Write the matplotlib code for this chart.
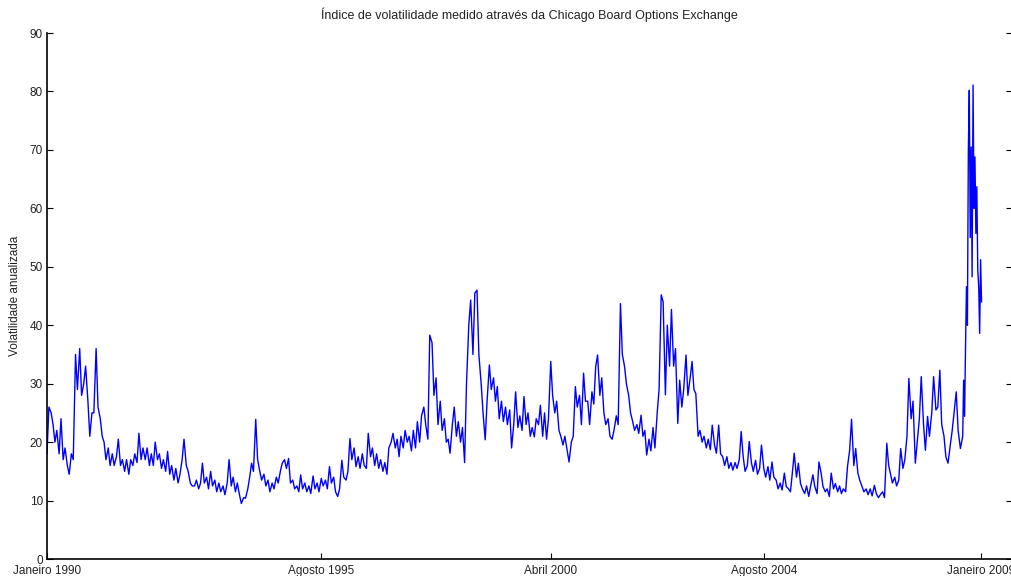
import matplotlib
matplotlib.use("Agg")
import matplotlib.pyplot as plt
import matplotlib.dates as mdates
import pandas as pd
import numpy as np

# ---- data (semi-monthly samples, weekly during the 2008 crash) ----
vix_1990_1994 = [
    18, 26, 25, 23, 20, 22, 18, 24, 17, 19, 16, 14.5, 18, 17, 35, 29, 36, 28, 30, 33, 27, 21, 25, 25,
    36, 26, 24, 21, 20, 17, 19, 16, 18, 16, 17.5, 20.5, 16, 17, 15, 17, 14.5, 17, 16, 18, 16.5, 21.5, 17, 19,
    17, 19, 16, 18, 16, 20, 17, 18, 15.5, 17, 15, 18.4, 14.5, 16, 13.5, 15.5, 13, 14.5, 17, 20.5, 16, 15, 13, 12.5,
    12.5, 13.5, 12, 13, 16.4, 13, 14, 12, 15, 12.5, 13.5, 11.5, 13, 11.5, 12.5, 11, 13, 17, 12.5, 14, 11.5, 13, 11, 9.5,
    10.5, 10.4, 12, 14, 16.4, 15, 23.9, 17, 15, 13.5, 14.5, 12.5, 13.5, 11.5, 13, 12, 14, 13, 15, 16.4, 17, 15.5, 17.2, 13,
]
vix_1995_1999 = [
    13.5, 12, 12.5, 11.5, 14.4, 12, 13, 11.5, 12.5, 11.2, 14.2, 12, 13, 11.5, 13.8, 12.5, 13.5, 12, 15.8, 13, 14, 11.5, 10.7, 12,
    16.9, 14, 13.5, 15, 20.6, 17, 19, 15.8, 17.5, 15.5, 18, 16, 15.5, 21.5, 17.5, 19, 16, 18, 15.5, 17, 15, 16.5, 14.5, 19,
    20, 21.5, 19, 20.5, 17.5, 21, 19, 22, 20, 21, 18.5, 22, 19, 23.5, 20, 24.5, 26, 23, 20.5, 38.3, 37, 28, 31, 23,
    27, 22, 24, 20, 20.5, 18.1, 23, 26, 21, 23.5, 20, 22.5, 16.5, 30, 40, 44.3, 35, 45.5, 46, 35, 30, 25, 20.4, 27,
    33.2, 29, 31, 27, 29.5, 24, 27, 23.5, 26, 23, 25.5, 19, 23, 28.6, 22.5, 24.5, 22, 27.8, 23, 25, 21, 22.5, 20.9, 24,
]
vix_2000_2004 = [
    23, 26.3, 21, 25, 20.5, 24, 33.8, 28, 25, 27, 22, 21, 19.5, 21, 18.6, 16.6, 20, 21, 29.5, 26, 28, 23, 31.8, 27,
    27, 23, 28.6, 26.5, 32.9, 34.9, 28, 31, 25, 23, 24, 21, 20.5, 22, 24.5, 23, 43.7, 35, 33, 30, 28, 25, 23.5, 22,
    23, 21.5, 24.6, 21, 22, 17.8, 20.5, 18.5, 22.5, 19, 25, 29, 45.2, 44, 28.1, 40, 33, 42.7, 33, 36, 23.2, 30.6, 26, 29,
    34.9, 28, 31, 33.8, 29, 28.3, 21, 22, 20, 21, 19, 20.5, 18.7, 22.9, 19.5, 18.1, 22.9, 18, 17.5, 16, 17.5, 15.5, 16.5, 15.2,
    16.5, 15.5, 17, 21.8, 17.5, 15, 16, 20.1, 16.5, 15, 16.9, 14.5, 15.5, 19.5, 15.5, 14, 15.8, 13.5, 16.6, 14, 13.5, 12, 13, 11.8,
]
vix_2005_2008 = [
    14.7, 12.4, 12, 11.5, 14.7, 18.1, 14, 16.4, 12.9, 12, 11.2, 12.5, 10.7, 12.5, 14.4, 12.4, 11.2, 16.6, 14.7, 12.4, 11.5, 12, 10.7, 14.7,
    12, 12.9, 11.5, 12.5, 11.2, 12, 11.5, 15.8, 18.6, 23.9, 16, 18.9, 14.7, 13.5, 12.4, 11.5, 12, 11, 12, 10.8, 12.6, 11.2, 10.5, 11,
    11.5, 10.5, 19.8, 16, 14.5, 13, 14, 12.5, 13.5, 18.9, 15.5, 17, 21, 30.9, 24, 27, 16.4, 20, 24, 31.2, 23, 18.6, 24.4, 21,
    25, 31.2, 25.5, 26, 32.3, 23, 21, 17.5, 16.4, 19, 22, 25, 28.6, 22, 18.9,
]
vix_crash = [21, 30.6, 24.4, 36.3, 46.6, 40, 70, 80.2, 55, 70.5, 48.3, 81.1,
             60, 68.8, 55.7, 63.7, 49.4, 46.6, 38.6, 51.2, 44]

tick_dates = ["1990-01-01", "1995-08-01", "2000-04-01", "2004-08-01", "2009-01-01"]
tick_labels = ["Janeiro 1990", "Agosto 1995", "Abril 2000", "Agosto 2004", "Janeiro 2009"]

title = "Índice de volatilidade medido através da Chicago Board Options Exchange"
ylabel = "Volatilidade anualizada"

# ---- build series ----
main_vals = vix_1990_1994 + vix_1995_1999 + vix_2000_2004 + vix_2005_2008
main_dates = pd.date_range("1990-01-01", periods=len(main_vals), freq="SMS")
crash_dates = pd.date_range("2008-08-18", periods=len(vix_crash), freq="7D")
dates = main_dates.append(crash_dates)
values = np.array(main_vals + vix_crash, dtype=float)

# ---- figure ----
plt.rcParams['font.family'] = ['Liberation Sans', 'DejaVu Sans']
W, H = 1011, 576
fig = plt.figure(figsize=(W / 100, H / 100), dpi=100)
left, right, top, bottom = 47, 1012, 33, 559
ax = fig.add_axes([left / W, 1 - bottom / H, (right - left) / W, (bottom - top) / H])

ax.plot(dates, values, color=(0, 0, 1), lw=1.0)

x0 = mdates.date2num(pd.Timestamp("1990-01-01"))
x9 = mdates.date2num(pd.Timestamp("2009-01-01"))
x_end = x0 + (x9 - x0) * (right - left) / (981 - left)
ax.set_xlim(x0, x_end)
ax.set_ylim(0, 90)
ax.set_yticks(range(0, 91, 10))
ax.set_xticks([mdates.date2num(pd.Timestamp(d)) for d in tick_dates])
ax.set_xticklabels(tick_labels)

ax.tick_params(direction='in', length=4, width=0.8, labelsize=8.5, colors='black',
               labelcolor='#222222', right=True, top=False, pad=3)
ax.tick_params(axis='x', pad=4)
ax.spines['top'].set_visible(False)
for s in ['left', 'bottom', 'right']:
    ax.spines[s].set_linewidth(1.2)

ax.set_title(title, fontsize=9, pad=10, color='#222222')
ax.set_ylabel(ylabel, fontsize=8.5, labelpad=6, color='#222222')

fig.savefig("out.png", dpi=100)
